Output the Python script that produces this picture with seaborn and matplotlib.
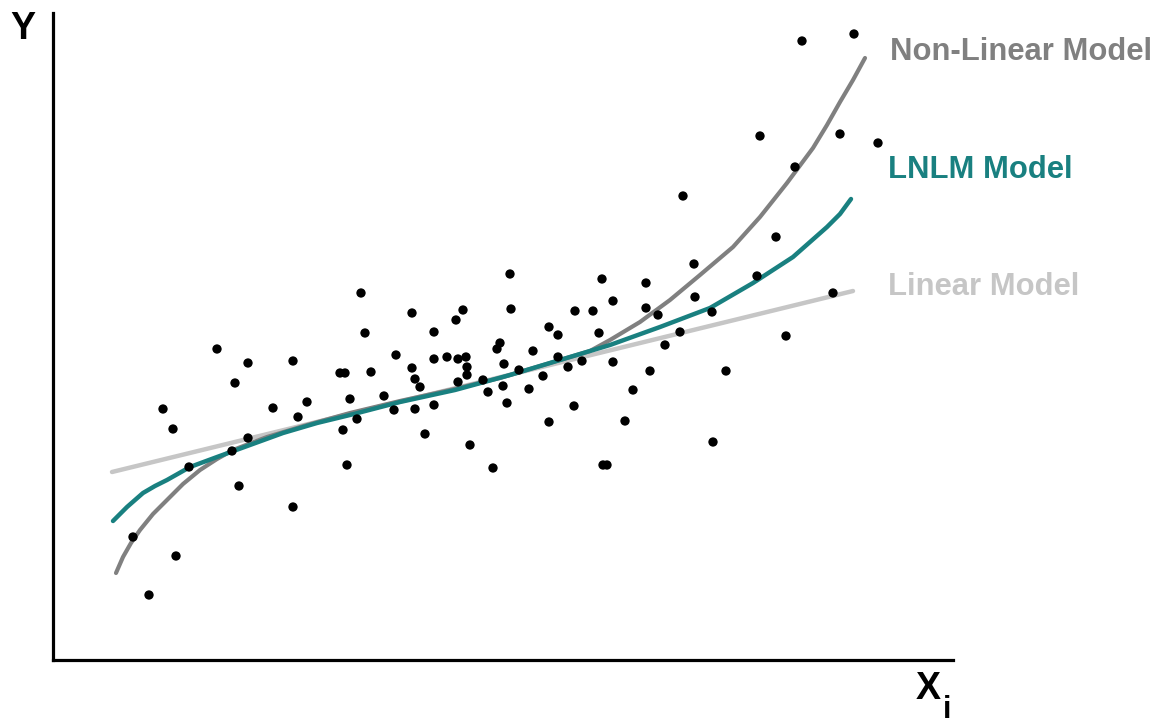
import numpy as np
import pandas as pd
import matplotlib
matplotlib.use("Agg")
import matplotlib.pyplot as plt
import seaborn as sns

obs_x = [749, 801, 707, 787, 825, 742, 630, 723, 641, 704, 549, 457, 593, 780, 308,
         359, 410, 403, 458, 522, 540, 560, 593, 605, 642, 659, 381, 312, 496, 505,
         546, 627, 612, 164, 240, 195, 287, 292, 318, 343, 359, 381, 394, 405, 413,
         414, 414, 447, 444, 451, 480, 466, 505, 515, 529, 560, 673, 597, 182, 362,
         367, 405, 430, 435, 450, 490, 476, 580, 331, 110, 120, 220, 254, 245, 297,
         341, 362, 381, 454, 521, 304, 290, 372, 417, 496, 572, 195, 136, 179, 294,
         440, 550, 554, 660, 733, 186, 240, 80, 123, 96]
obs_y = [619, 626, 524, 526, 517, 493, 464, 423, 396, 384, 381, 386, 377, 367, 367,
         347, 350, 340, 351, 349, 349, 359, 352, 345, 363, 348, 328, 327, 333, 325,
         327, 328, 315, 311, 299, 297, 287, 287, 288, 305, 292, 301, 303, 301, 303,
         293, 285, 317, 311, 296, 309, 290, 303, 293, 299, 298, 289, 289, 277, 281,
         273, 278, 280, 268, 274, 284, 271, 270, 264, 251, 231, 252, 258, 243, 261,
         250, 251, 255, 257, 254, 241, 230, 226, 215, 238, 239, 222, 193, 209, 195,
         192, 195, 195, 218, 324, 174, 153, 123, 104, 65]

# model curves
nonlin_x = [63, 70, 78, 87, 100, 114, 130, 147, 164, 180, 214, 254, 297, 347, 397,
            447, 507, 537, 557, 587, 617, 647, 680, 707, 734, 760, 774, 787, 800, 812]
nonlin_y = [87, 103, 117, 130, 146, 160, 176, 190, 201, 210, 223, 235, 247, 259, 270,
            282, 300, 309, 320, 338, 360, 385, 413, 443, 477, 512, 535, 558, 580, 602]

lnlm_x = [60, 67, 74, 82, 90, 102, 114, 137, 164, 197, 230, 264, 297, 347, 402, 457,
          507, 557, 607, 657, 700, 740, 774, 787, 798]
lnlm_y = [139, 146, 153, 160, 167, 174, 180, 193, 203, 215, 227, 237, 245, 258, 270,
          285, 300, 315, 333, 352, 377, 403, 433, 446, 461]

lin_x = [59, 800]
lin_y = [188, 369]

TEAL = "#198080"
GRAY = "#808080"
LIGHT = "#c6c6c6"

sns.set_style("white")
plt.rcParams["font.family"] = ["Liberation Sans", "DejaVu Sans"]

fig = plt.figure(figsize=(11.59, 7.2), dpi=100)
ax = fig.add_axes([53 / 1159, 60 / 720, 900 / 1159, 647 / 720])

pts = pd.DataFrame({"x": obs_x, "y": obs_y})
sns.scatterplot(data=pts, x="x", y="y", color="black", s=45, edgecolor="none", ax=ax, zorder=3)

line_kw = dict(solid_joinstyle="round", solid_capstyle="round")
sns.lineplot(x=lin_x, y=lin_y, color=LIGHT, lw=3.2, ax=ax, zorder=2, **line_kw)
sns.lineplot(x=nonlin_x, y=nonlin_y, color=GRAY, lw=3.0, ax=ax, zorder=2, **line_kw)
sns.lineplot(x=lnlm_x, y=lnlm_y, color=TEAL, lw=3.2, ax=ax, zorder=2, **line_kw)

ax.set_xlim(0, 900)
ax.set_ylim(0, 647)
ax.set_xticks([])
ax.set_yticks([])
ax.set_xlabel("")
ax.set_ylabel("")
sns.despine(ax=ax)
for side in ["left", "bottom"]:
    ax.spines[side].set_linewidth(2.3)
    ax.spines[side].set_color("black")

fig.text(890 / 1159, 1 - 52 / 720, "Non-Linear Model", color=GRAY, fontsize=22.3,
         fontweight="bold", va="center", ha="left")
fig.text(888 / 1159, 1 - 170 / 720, "LNLM Model", color=TEAL, fontsize=22.3,
         fontweight="bold", va="center", ha="left")
fig.text(888 / 1159, 1 - 287 / 720, "Linear Model", color=LIGHT, fontsize=22.3,
         fontweight="bold", va="center", ha="left")

fig.text(10 / 1159, 1 - 29 / 720, "Y", color="black", fontsize=27, fontweight="bold",
         va="center", ha="left")
fig.text(916 / 1159, 1 - 689 / 720, "X", color="black", fontsize=27, fontweight="bold",
         va="center", ha="left")
fig.text(943 / 1159, 1 - 710 / 720, "i", color="black", fontsize=22, fontweight="bold",
         va="center", ha="left")

fig.savefig("out.png", dpi=100)
